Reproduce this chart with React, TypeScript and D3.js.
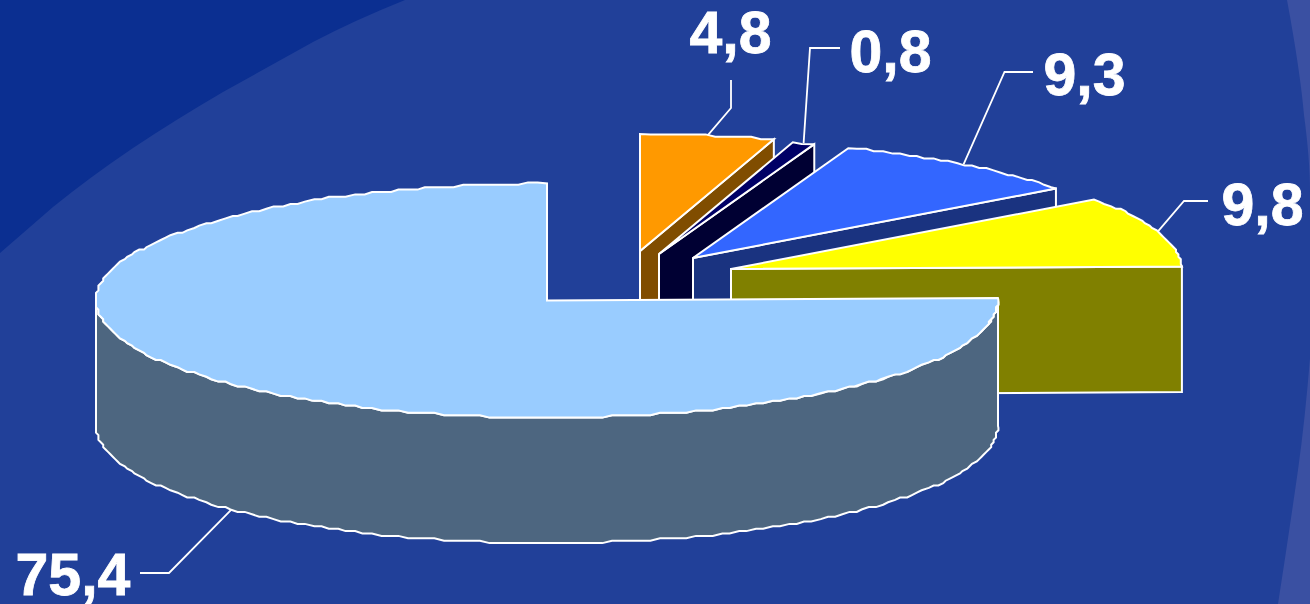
import React from "react";
import * as d3 from "d3";

// Share of each slice, clockwise from twelve o'clock
const sliceLabels = ["4,8", "0,8", "9,3", "9,8", "75,4"];
const sliceValues = [4.8, 0.8, 9.3, 9.8, 75.4];

const topColors = ["#ff9900", "#000066", "#3366ff", "#ffff00", "#99ccff"];
const sideColors = ["#804d00", "#000033", "#1a3380", "#808000", "#4d6680"];

// Exploded apex of every slice, in drawing coordinates
const apexX = [640, 659, 693, 731, 547];
const apexY = [251, 254, 258, 269, 300.5];

// Leader elbows and label anchors
const elbowX = [731, 810, 1004.5, 1184, 169];
const elbowY = [108, 48, 72, 201, 573];
const leaderEndX = [731, 840, 1033, 1208, 140];
const leaderEndY = [80, 48, 72, 201, 573];
const labelX = [689.5, 849.5, 1043.5, 1221.5, 15.5];
const labelY = [53, 72, 95, 225, 595];

const WIDTH = 1310;
const HEIGHT = 604;
const RADIUS_X = 451;
const RADIUS_Y = 117;
const DEPTH = 125.5;
const EDGE_STEP = Math.PI / 150;
const WOBBLE_GRID = 2.4;

const xScale = d3.scaleLinear().domain([-1, 1]).range([-RADIUS_X, RADIUS_X]);
const yScale = d3.scaleLinear().domain([-1, 1]).range([-RADIUS_Y, RADIUS_Y]);

type Pt = [number, number];

const onRim = (cx: number, cy: number, a: number): Pt => [
  cx + xScale(Math.sin(a)),
  cy + yScale(-Math.cos(a)),
];

// The rim is a short-segment polyline snapped to a coarse grid, which gives the edge its slight ripple
const rim = (cx: number, cy: number, a0: number, a1: number): Pt[] => {
  const inner = d3.range(a0 + EDGE_STEP, a1 - EDGE_STEP / 2, EDGE_STEP).map((a) => {
    const [x, y] = onRim(cx, cy, a);
    return [Math.round(x / WOBBLE_GRID) * WOBBLE_GRID, Math.round(y / WOBBLE_GRID) * WOBBLE_GRID] as Pt;
  });
  return [onRim(cx, cy, a0), ...inner, onRim(cx, cy, a1)];
};

const line = d3.line<Pt>();
const closed = (pts: Pt[]) => (line(pts) as string) + "Z";

const arcs = d3
  .pie<number>()
  .sort(null)
  .startAngle(0)
  .endAngle(2 * Math.PI)(sliceValues);

const EDGE = { stroke: "#fff", strokeWidth: 2, strokeLinejoin: "miter" as const, strokeMiterlimit: 3 };

function Slice({ i }: { i: number }) {
  const { startAngle, endAngle } = arcs[i];
  const cx = apexX[i];
  const cy = apexY[i];
  const top = rim(cx, cy, startAngle, endAngle);
  const drop = (pts: Pt[]) => pts.map(([x, y]) => [x, y + DEPTH] as Pt).reverse();

  // Lower half of the rim is the only curved wall that faces the viewer
  const frontStart = Math.max(startAngle, Math.PI / 2);
  const frontEnd = Math.min(endAngle, 1.5 * Math.PI);
  const frontRim = frontEnd > frontStart ? rim(cx, cy, frontStart, frontEnd) : null;

  // Flat wall along the clockwise cut, seen only on slices ending in the upper right
  const cutEnd = onRim(cx, cy, endAngle);
  const cutWall: Pt[] = [[cx, cy], cutEnd, [cutEnd[0], cutEnd[1] + DEPTH], [cx, cy + DEPTH]];

  return (
    <g>
      {endAngle < Math.PI && <path d={closed(cutWall)} fill={sideColors[i]} {...EDGE} />}
      {frontRim && <path d={closed([...frontRim, ...drop(frontRim)])} fill={sideColors[i]} {...EDGE} />}
      <path d={closed([[cx, cy], ...top])} fill={topColors[i]} {...EDGE} />
    </g>
  );
}

function Leader({ i }: { i: number }) {
  const mid = (arcs[i].startAngle + arcs[i].endAngle) / 2;
  const [ax, ay] = onRim(apexX[i], apexY[i], mid);
  const anchorY = mid > Math.PI / 2 && mid < 1.5 * Math.PI ? ay + DEPTH : ay;
  const pts: Pt[] = [
    [ax, anchorY],
    [elbowX[i], elbowY[i]],
    [leaderEndX[i], leaderEndY[i]],
  ];
  return <path d={line(pts) as string} fill="none" stroke="#fff" strokeWidth={1.8} />;
}

export default function App() {
  return (
    <svg
      width={WIDTH}
      height={HEIGHT}
      viewBox={`0 0 ${WIDTH} ${HEIGHT}`}
      style={{ position: "absolute", left: 0, top: 0, display: "block" }}
    >
      <rect width={WIDTH} height={HEIGHT} fill="#214099" />
      {/* Slide backdrop: darker sweep at the top left, paler band down the right edge */}
      <path d="M0,0 L405,0 Q355,20 313,42 L223,92 Q175,120 133,148 Q90,177 53,207 L0,253 Z" fill="#0b2f91" />
      <path d="M1287,0 Q1300,70 1304,115 Q1310,160 1310,192 L1310,358 Q1305,420 1298,470 Q1288,540 1278,604 L1310,604 L1310,0 Z" fill="#3a50a2" />

      {sliceValues.map((_, i) => (
        <Slice key={i} i={i} />
      ))}
      {sliceValues.map((_, i) => (
        <Leader key={i} i={i} />
      ))}
      {sliceLabels.map((t, i) => (
        <text
          key={t}
          x={labelX[i]}
          y={labelY[i]}
          fill="#fff"
          stroke="#fff"
          strokeWidth={0.8}
          fontFamily="'Liberation Sans', Arial, sans-serif"
          fontWeight={700}
          fontSize={59}
        >
          {t}
        </text>
      ))}
    </svg>
  );
}
